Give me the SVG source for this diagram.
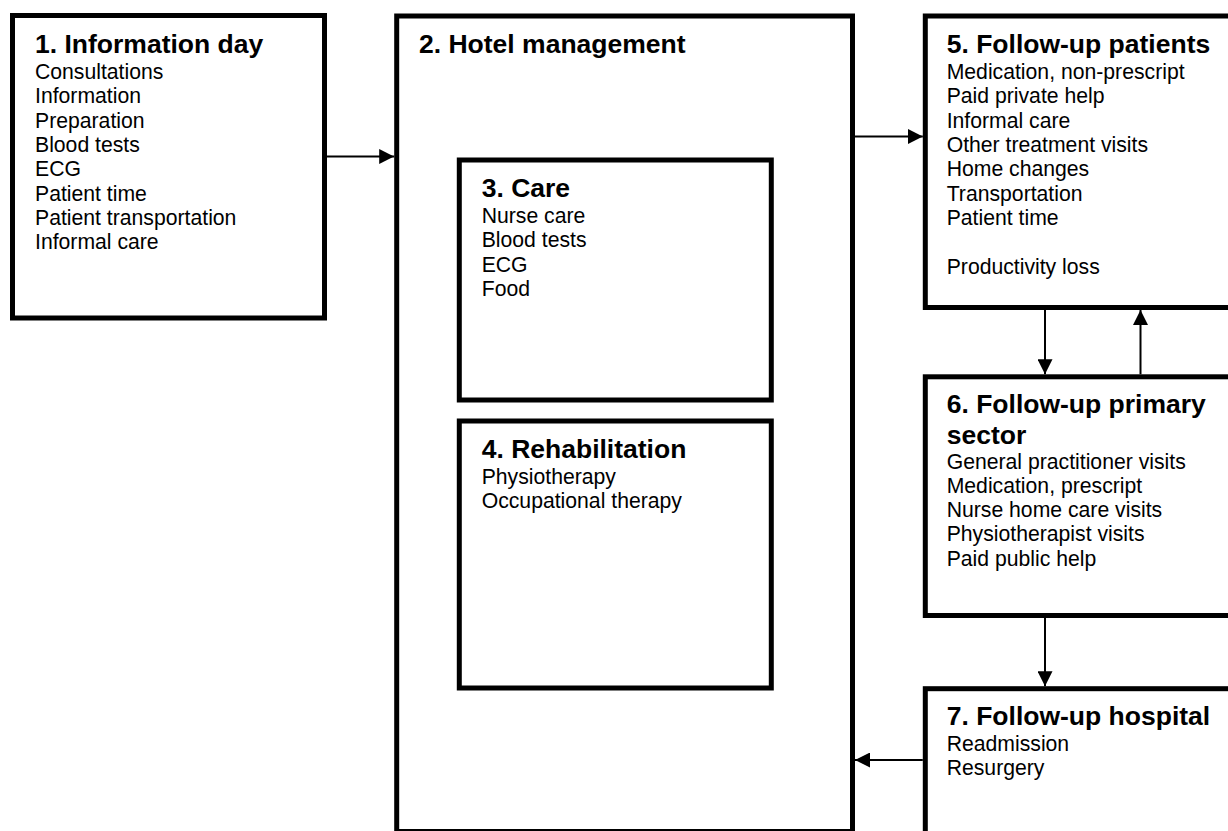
<svg xmlns="http://www.w3.org/2000/svg" width="1228" height="831" viewBox="0 0 1228 831">
<style>
.box{fill:#fff;stroke:#000;stroke-width:5}
.t{font-family:"Liberation Sans",Arial,sans-serif;font-size:26.5px;font-weight:bold;fill:#000}
.b{font-family:"Liberation Sans",Arial,sans-serif;font-size:21.2px;fill:#000}
.c{stroke:#000;stroke-width:2;fill:none;marker-end:url(#ah)}
</style>
<defs>
<marker id="ah" markerUnits="userSpaceOnUse" markerWidth="15" markerHeight="15" refX="15" refY="7.5" orient="auto">
<path d="M0,0 L15,7.5 L0,15 Z" fill="#000"/>
</marker>
</defs>
<rect width="1228" height="831" fill="#fff"/>
<g id="n1">
<rect class="box" x="12.5" y="15.5" width="312" height="302.5"/>
<text class="t" x="35" y="53">1. Information day</text>
<text class="b" x="35" y="79">Consultations</text>
<text class="b" x="35" y="103.3">Information</text>
<text class="b" x="35" y="127.6">Preparation</text>
<text class="b" x="35" y="152">Blood tests</text>
<text class="b" x="35" y="176.3">ECG</text>
<text class="b" x="35" y="200.6">Patient time</text>
<text class="b" x="35" y="225">Patient transportation</text>
<text class="b" x="35" y="249.3">Informal care</text>
</g>
<g id="n2">
<rect class="box" x="396.7" y="16" width="455.8" height="815.5"/>
<text class="t" x="419" y="53">2. Hotel management</text>
</g>
<g id="n3">
<rect class="box" x="459.3" y="160" width="312" height="240"/>
<text class="t" x="481.7" y="197">3. Care</text>
<text class="b" x="481.7" y="223">Nurse care</text>
<text class="b" x="481.7" y="247.3">Blood tests</text>
<text class="b" x="481.7" y="271.6">ECG</text>
<text class="b" x="481.7" y="296">Food</text>
</g>
<g id="n4">
<rect class="box" x="459.3" y="421" width="312" height="267"/>
<text class="t" x="481.7" y="458">4. Rehabilitation</text>
<text class="b" x="481.7" y="484">Physiotherapy</text>
<text class="b" x="481.7" y="508.3">Occupational therapy</text>
</g>
<g id="n5">
<rect class="box" x="925.3" y="16" width="320" height="291.5"/>
<text class="t" x="946.7" y="53">5. Follow-up patients</text>
<text class="b" x="946.7" y="79">Medication, non-prescript</text>
<text class="b" x="946.7" y="103.3">Paid private help</text>
<text class="b" x="946.7" y="127.6">Informal care</text>
<text class="b" x="946.7" y="152">Other treatment visits</text>
<text class="b" x="946.7" y="176.3">Home changes</text>
<text class="b" x="946.7" y="200.6">Transportation</text>
<text class="b" x="946.7" y="225">Patient time</text>
<text class="b" x="946.7" y="273.6">Productivity loss</text>
</g>
<g id="n6">
<rect class="box" x="925.3" y="376.8" width="320" height="238.7"/>
<text class="t" x="946.7" y="412.5">6. Follow-up primary</text>
<text class="t" x="946.7" y="443.5">sector</text>
<text class="b" x="946.7" y="468.5">General practitioner visits</text>
<text class="b" x="946.7" y="492.8">Medication, prescript</text>
<text class="b" x="946.7" y="517.1">Nurse home care visits</text>
<text class="b" x="946.7" y="541.4">Physiotherapist visits</text>
<text class="b" x="946.7" y="565.7">Paid public help</text>
</g>
<g id="n7">
<rect class="box" x="925.3" y="688.7" width="320" height="160"/>
<text class="t" x="946.7" y="725">7. Follow-up hospital</text>
<text class="b" x="946.7" y="750.5">Readmission</text>
<text class="b" x="946.7" y="774.8">Resurgery</text>
</g>
<g id="connectors">
<line class="c" x1="327" y1="156.5" x2="394.2" y2="156.5"/>
<line class="c" x1="855" y1="136.5" x2="922.8" y2="136.5"/>
<line class="c" x1="1045" y1="310" x2="1045" y2="374.3"/>
<line class="c" x1="1140.5" y1="374.3" x2="1140.5" y2="310"/>
<line class="c" x1="1045" y1="618" x2="1045" y2="686.2"/>
<line class="c" x1="922.8" y1="760" x2="855" y2="760"/>
</g>
</svg>
